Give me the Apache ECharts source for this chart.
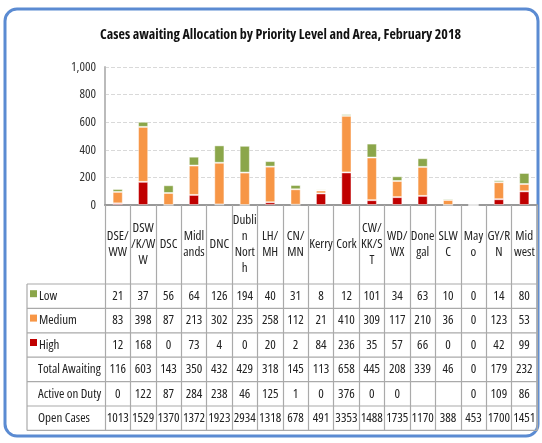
<!DOCTYPE html>
<html>
<head>
<meta charset="utf-8">
<script src="https://cdn.jsdelivr.net/npm/echarts@6/dist/echarts.min.js"></script>
<style>
  html, body { margin: 0; padding: 0; background: #fff; }
  #chart { width: 542px; height: 443px; }
</style>
</head>
<body>
<div id="chart"></div>
<script>
// areas (header text, wrapped like the original table)
var areas = ['DSE/\nWW', 'DSW\n/K/W\nW', 'DSC', 'Midl\nands', 'DNC', 'Dubli\nn\nNort\nh', 'LH/\nMH', 'CN/\nMN',
    'Kerry', 'Cork', 'CW/\nKK/S\nT', 'WD/\nWX', 'Done\ngal', 'SLW\nC', 'May\no', 'GY/R\nN', 'Mid\nwest'];

var low = [21, 37, 56, 64, 126, 194, 40, 31, 8, 12, 101, 34, 63, 10, 0, 14, 80];
var medium = [83, 398, 87, 213, 302, 235, 258, 112, 21, 410, 309, 117, 210, 36, 0, 123, 53];
var high = [12, 168, 0, 73, 4, 0, 20, 2, 84, 236, 35, 57, 66, 0, 0, 42, 99];
var totalAwaiting = [116, 603, 143, 350, 432, 429, 318, 145, 113, 658, 445, 208, 339, 46, 0, 179, 232];
var activeOnDuty = [0, 122, 87, 284, 238, 46, 125, 1, 0, 376, 0, 0, '', '', 0, 109, 86];
var openCases = [1013, 1529, 1370, 1372, 1923, 2934, 1318, 678, 491, 3353, 1488, 1735, 1170, 388, 453, 1700, 1451];

var yTicks = [0, 200, 400, 600, 800, 1000];

var colLow = '#8BA64A', colMed = '#F79646', colHigh = '#C00000';
var font = '"Open Sans", "Roboto Condensed", sans-serif';
var stretch = 'condensed';

var chart = echarts.init(document.getElementById('chart'));

// table rows under the chart
var rows = [
    { name: 'Low', data: low, color: colLow },
    { name: 'Medium', data: medium, color: colMed },
    { name: 'High', data: high, color: colHigh },
    { name: 'Total Awaiting', data: totalAwaiting },
    { name: 'Active on Duty', data: activeOnDuty },
    { name: 'Open Cases', data: openCases }
];
var plotTop = 67, plotBottom = 205, left = 105, right = 537;
var headerBottom = 284, rowH = 24.4, tableLeft = 27;

var xAxes = [{
    type: 'category',
    data: areas,
    gridIndex: 0,
    axisLine: { lineStyle: { color: '#999', width: 2 } },
    axisTick: { show: true, length: headerBottom - plotBottom + rowH * 6, lineStyle: { color: '#aaa', width: 1.2 } },
    axisLabel: {
        interval: 0, margin: (headerBottom - plotBottom) / 2, verticalAlign: 'middle',
        color: '#222', fontFamily: font, fontStyle: stretch, fontSize: 13, lineHeight: 16
    }
}];
rows.forEach(function (r, k) {
    xAxes.push({
        type: 'category',
        data: areas,
        gridIndex: 0,
        position: 'bottom',
        axisLine: { show: false },
        axisTick: { show: false },
        axisLabel: {
            interval: 0,
            margin: headerBottom - plotBottom + rowH * k + rowH / 2,
            verticalAlign: 'middle',
            color: '#222', fontFamily: font, fontStyle: stretch, fontSize: 13,
            formatter: function (v, i) { return String(r.data[i]); }
        }
    });
});

var graphics = [{
    type: 'rect',
    shape: { x: 5, y: 9, width: 533, height: 427, r: 12 },
    style: { fill: null, stroke: '#5B8BD2', lineWidth: 3 },
    z: 0
}];
// table horizontal lines
for (var k = 0; k <= 6; k++) {
    graphics.push({
        type: 'line',
        shape: { x1: tableLeft, y1: headerBottom + rowH * k, x2: right, y2: headerBottom + rowH * k },
        style: { stroke: '#aaa', lineWidth: 1.2 }
    });
}
graphics.push({
    type: 'line',
    shape: { x1: tableLeft, y1: headerBottom, x2: tableLeft, y2: headerBottom + rowH * 6 },
    style: { stroke: '#aaa', lineWidth: 1.2 }
});
graphics.push({
    type: 'line',
    shape: { x1: right, y1: plotBottom, x2: right, y2: headerBottom + rowH * 6 },
    style: { stroke: '#aaa', lineWidth: 1.2 }
});
rows.forEach(function (r, k) {
    var cy = headerBottom + rowH * k + rowH / 2;
    if (r.color) {
        graphics.push({
            type: 'rect',
            shape: { x: 30, y: cy - 6, width: 7, height: 7 },
            style: { fill: r.color }
        });
    }
    graphics.push({
        type: 'text',
        x: r.color ? 39 : 38, y: cy,
        style: { text: r.name, fill: '#222', font: stretch + ' 13px ' + font, verticalAlign: 'middle' }
    });
});

var barItem = function (c) {
    return { color: c, borderColor: 'rgba(255,255,255,0.45)', borderWidth: 1 };
};

chart.setOption({
    animation: false,
    title: {
        text: 'Cases awaiting Allocation by Priority Level and Area, February 2018',
        left: 95, top: 23,
        textStyle: { fontFamily: font, fontStyle: stretch, fontSize: 14, fontWeight: 'bold', color: '#111' }
    },
    grid: { left: left, right: 542 - right, top: plotTop, height: plotBottom - plotTop },
    xAxis: xAxes,
    yAxis: {
        type: 'value',
        min: yTicks[0], max: yTicks[yTicks.length - 1], interval: 200,
        axisLine: { show: true, lineStyle: { color: '#bbb', width: 2 } },
        axisTick: { show: false },
        axisLabel: {
            color: '#333', fontFamily: font, fontStyle: stretch, fontSize: 13, margin: 9,
            formatter: function (v) { return v >= 1000 ? '1,000' : String(v); }
        },
        splitLine: { lineStyle: { color: '#d9d9d9', type: 'dashed' } }
    },
    series: [
        { name: 'High', type: 'bar', stack: 'a', data: high, barWidth: '40%', itemStyle: barItem(colHigh) },
        { name: 'Medium', type: 'bar', stack: 'a', data: medium, itemStyle: barItem(colMed) },
        { name: 'Low', type: 'bar', stack: 'a', data: low, itemStyle: barItem(colLow) }
    ],
    graphic: graphics
});
</script>
</body>
</html>
